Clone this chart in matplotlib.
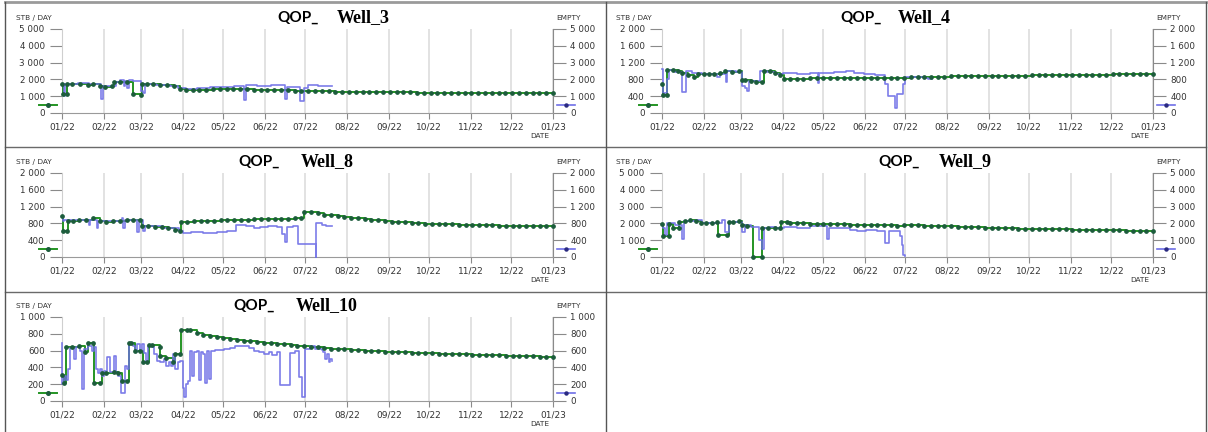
import numpy as np
import matplotlib
matplotlib.use("Agg")
import matplotlib.pyplot as plt
import matplotlib.dates as mdates
from matplotlib.lines import Line2D
from matplotlib.ticker import FuncFormatter, MultipleLocator
from datetime import datetime

# ---------------------------------------------------------------- data
# day offsets are counted from 2022-01-01

# Well_3
W3_G_DAYS = [0, 1, 3.7, 4, 7.5, 13.5, 19, 23, 28, 32, 37, 38.5, 43, 48, 53, 59, 59.5, 63, 68, 73, 78, 83, 88]
W3_G_VALS = [1750, 1150, 1150, 1750, 1750, 1750, 1650, 1700, 1600, 1550, 1600, 1850, 1850, 1850, 1150, 1100,
             1700, 1700, 1700, 1650, 1650, 1600, 1450]
W3_FC_START = 92
W3_FC_VALS = [1340, 1360, 1380, 1390, 1400, 1400, 1400, 1400, 1400, 1400,
              1390, 1380, 1370, 1360, 1350, 1340, 1330, 1320, 1310, 1300,
              1290, 1280, 1270, 1260, 1250, 1240, 1235, 1230, 1230, 1230,
              1225, 1225, 1225, 1225, 1220, 1220, 1220, 1220, 1220, 1220,
              1220, 1220, 1220, 1220, 1220, 1220, 1220, 1220, 1220, 1220,
              1220, 1220, 1220, 1220, 1220]
W3_B_DAYS = [0, 1.5, 2.5, 12, 20, 25, 29, 30.5, 40, 43, 46, 47, 48.5, 49.5, 53, 58.5, 60.5, 61.5, 70, 80,
             86, 92, 100, 110, 120, 128, 135.5, 136.5, 145, 155, 165.5, 167, 177, 180, 183, 190, 200.5]
W3_B_VALS = [1700, 1000, 1750, 1760, 1700, 1750, 850, 1600, 1850, 1950, 1600, 1900, 1500, 1950, 1900, 1300,
             1200, 1700, 1650, 1600, 1500, 1450, 1500, 1550, 1550, 1600, 750, 1650, 1600, 1650, 850, 1550,
             700, 1500, 1650, 1620, 1600]

# Well_4
W4_G_DAYS = [0, 1, 3.7, 4, 8, 12, 15, 19, 24, 27, 31, 35, 39, 43, 47, 52, 57, 59.5, 62, 66, 70, 74, 76, 80,
             84, 88, 90.5]
W4_G_VALS = [690, 440, 440, 1030, 1030, 1000, 950, 910, 860, 940, 930, 930, 930, 950, 990, 980, 990, 790,
             780, 760, 750, 740, 1010, 1000, 960, 900, 810]
W4_FC_START = 95
W4_FC_VALS = [815, 818, 820, 822, 822, 824, 825, 826, 828, 830,
              830, 832, 833, 835, 838, 840, 842, 845, 850, 855,
              860, 862, 865, 868, 870, 872, 874, 876, 878, 880,
              882, 884, 886, 888, 890, 892, 894, 896, 898, 900,
              902, 904, 906, 908, 910, 912, 914, 916, 918, 920,
              923, 926, 929, 932, 935]
W4_B_DAYS = [0, 0.5, 1, 3.7, 5.5, 10, 15, 17.5, 22, 30, 41, 43, 47.5, 48.5, 55, 59.5, 61.5, 63, 64.5, 73,
             78, 84, 90, 100, 110, 116, 117, 128, 137, 143, 150, 158, 165.5, 168, 173.5, 175, 179, 181, 195,
             198, 200.5]
W4_B_VALS = [1050, 700, 480, 800, 1020, 980, 490, 1000, 960, 940, 850, 940, 750, 1000, 970, 640, 600, 520,
             760, 1000, 980, 930, 950, 930, 950, 720, 950, 980, 1000, 950, 920, 900, 700, 400, 130, 450, 700,
             850, 840, 820, 820]

# Well_8
W8_G_DAYS = [0, 1, 4, 4.5, 8, 13, 18, 23, 28, 33, 38, 43, 48, 53, 58, 59.5, 64, 69, 74, 79, 84, 88, 88.5,
             93, 98, 103, 108, 113, 118, 123, 128, 133, 138, 143, 148, 153, 158, 163, 168, 173, 177.5]
W8_G_VALS = [980, 630, 630, 850, 860, 870, 880, 920, 860, 840, 850, 860, 870, 880, 890, 750, 740, 720, 710,
             700, 650, 620, 840, 845, 850, 855, 860, 865, 870, 875, 880, 885, 890, 895, 900, 905, 910, 913,
             916, 918, 920]
W8_FC_START = 180
W8_FC_VALS = [1080, 1070, 1040, 1010, 990, 970, 950, 935, 920, 905,
              890, 875, 860, 845, 835, 825, 815, 805, 795, 788,
              782, 778, 774, 770, 766, 762, 759, 756, 753, 750,
              748, 746, 744, 742, 741, 740, 739, 738]
W8_B_DAYS = [0, 0.5, 1.5, 8, 15, 20, 21, 26, 27, 35, 44.5, 45.5, 47, 56, 57, 60.5, 61.5, 68, 75, 83, 87,
             90, 96, 105, 115, 123, 129, 137, 143, 147, 153, 160, 163.5, 165.5, 167, 172, 175.5, 188.5,
             188.9, 193, 196, 200.5]
W8_B_VALS = [950, 860, 870, 880, 870, 760, 880, 680, 860, 850, 920, 700, 880, 600, 880, 620, 750, 740, 700,
             680, 630, 560, 590, 580, 600, 610, 760, 740, 690, 710, 730, 720, 550, 350, 720, 740, 300, 0,
             800, 770, 740, 730]

# Well_9
W9_G_DAYS = [0, 0.8, 5, 5.2, 8, 12.5, 13, 17, 21, 25, 29, 33, 37, 41, 42, 48, 49.5, 53, 57, 59.5, 63, 67.5,
             74, 74.5, 79, 84, 87.5, 88.5, 93]
W9_G_VALS = [1950, 1250, 1250, 1950, 1700, 1700, 2100, 2150, 2200, 2150, 2050, 2000, 2050, 2100, 1300,
             1300, 2100, 2100, 2150, 1900, 1850, 0, 0, 1700, 1700, 1750, 1700, 2100, 2100]
W9_FC_START = 95
W9_FC_VALS = [2050, 2020, 2000, 1990, 1970, 1960, 1950, 1940, 1940, 1930,
              1930, 1920, 1910, 1900, 1890, 1880, 1870, 1890, 1890, 1880,
              1870, 1860, 1850, 1830, 1820, 1800, 1790, 1770, 1760, 1740,
              1730, 1720, 1710, 1700, 1690, 1680, 1670, 1660, 1655, 1650,
              1645, 1640, 1630, 1625, 1620, 1610, 1605, 1600, 1590, 1580,
              1570, 1560, 1550, 1540, 1530]
W9_B_DAYS = [0, 1, 2, 4, 10, 14.5, 16, 25, 30, 40, 44.5, 47, 49.5, 59.5, 62, 66, 72, 74, 75.5, 80, 85, 91,
             100, 110, 122.5, 124, 132, 140, 145, 152, 160, 166, 168.5, 177, 178.5, 179.5, 181]
W9_B_VALS = [1950, 1750, 1300, 2000, 1900, 1050, 2150, 2200, 2050, 2050, 2200, 1500, 2100, 1500, 1900,
             1800, 1000, 450, 1700, 1800, 1700, 1800, 1750, 1850, 1100, 1750, 1700, 1600, 1550, 1600, 1550,
             850, 1550, 1250, 700, 100, 50]

# Well_10
W10_G_DAYS = [0, 1.5, 3, 7.4, 12.4, 17, 19, 23, 23.5, 28, 30, 33, 38.4, 42, 44.6, 48.3, 49.6, 51.3, 54.5,
              58.2, 60.2, 63, 65, 67, 72.6, 73, 77.5, 82.5, 84.3, 88, 88.5, 93]
W10_G_VALS = [310, 210, 640, 640, 650, 580, 690, 690, 220, 220, 330, 330, 350, 330, 240, 240, 690, 690, 600,
              600, 460, 460, 670, 670, 640, 540, 510, 470, 560, 560, 850, 850]
W10_FC_START = 95
W10_FC_VALS = [845, 810, 790, 775, 760, 745, 735, 725, 717, 710,
               702, 695, 688, 680, 673, 665, 658, 650, 643, 638,
               633, 625, 620, 615, 610, 605, 601, 597, 593, 589,
               586, 583, 580, 577, 574, 571, 568, 565, 562, 559,
               556, 554, 551, 549, 546, 544, 542, 539, 537, 535,
               533, 530, 528, 525, 522]
W10_B_DAYS = [0, 0.3, 1.7, 3, 4.5, 5.7, 9.2, 10.2, 13.6, 15,
              16, 19, 22.3, 23.5, 25.3, 26.8, 28.5, 30, 31.5, 33.5,
              36, 38.4, 40, 42, 43.9, 46.6, 48.3, 49.8, 52.8, 54.3,
              55.8, 57.7, 59.2, 61.2, 62.2, 63.7, 66.2, 68.6, 70.6, 73.1,
              75.6, 77.3, 79.3, 81, 82.5, 84.3, 86, 88, 90, 91,
              92.2, 93.7, 94.9, 96.7, 97.9, 100.4, 101.9, 103.3, 104.8, 106.3,
              107.8, 109.3, 110.8, 114, 120.2, 125, 128.9, 133.8, 138.8, 142.5,
              146.2, 150, 153.7, 156, 159.9, 161.8, 169.8, 173.5, 176.5, 178.7,
              180.9, 184.4, 188, 193, 194, 195.5, 197, 198.5, 199.5, 200.5]
W10_B_VALS = [690, 200, 300, 250, 380, 630, 500, 640, 600, 140,
              620, 650, 600, 640, 380, 330, 380, 300, 360, 520,
              350, 540, 330, 300, 90, 420, 380, 690, 660, 580,
              680, 600, 680, 570, 450, 660, 640, 560, 480, 460,
              500, 420, 460, 420, 560, 380, 470, 480, 150, 50,
              200, 240, 590, 300, 580, 600, 250, 580, 560, 220,
              600, 260, 590, 610, 620, 630, 660, 650, 630, 600,
              580, 560, 580, 550, 580, 190, 570, 590, 280, 50,
              620, 650, 620, 610, 580, 500, 560, 470, 500, 480]

# ---------------------------------------------------------------- style
W, H = 1208, 432
PW, PH = 491, 84
GREEN = "#249424"
DOT = "#1c5c3c"
BLUE = "#6e6ee6"
TXT = "#333333"
T0 = mdates.date2num(datetime(2022, 1, 1))

fig = plt.figure(figsize=(W / 100, H / 100), dpi=100)
fig.patch.set_facecolor("white")


def fx(x):
    return x / W


def fy(y):
    return 1 - y / H


def fig_line(xs, ys, **kw):
    fig.add_artist(Line2D([fx(v) for v in xs], [fy(v) for v in ys],
                          transform=fig.transFigure, **kw))


def thousands(v, _):
    return f"{int(round(v)):,}".replace(",", " ")


def panel(left, top, well, ymax, ystep, g_days, g_vals, fc_start, fc_vals,
          b_days, b_vals, qop_x, well_x):
    ax = fig.add_axes([fx(left), fy(top + PH), PW / W, PH / H])

    gd = np.concatenate([np.asarray(g_days, float),
                         np.linspace(fc_start, 365, len(fc_vals))])
    gv = np.concatenate([np.asarray(g_vals, float), np.asarray(fc_vals, float)])
    gx = T0 + gd
    bx = T0 + np.asarray(b_days, float)

    ax.plot(gx, gv, drawstyle="steps-post", color=GREEN, lw=1.4, zorder=3, clip_on=False)
    ax.plot(bx, b_vals, drawstyle="steps-post", color=BLUE, lw=1.2, alpha=0.9,
            zorder=4, clip_on=False)
    ax.plot(gx, gv, ls="none", marker="o", ms=2.4, color=DOT, zorder=5, clip_on=False)

    ax.set_xlim(T0, T0 + 365)
    ax.set_ylim(0, ymax)
    ax.xaxis.set_major_locator(mdates.MonthLocator())
    ax.xaxis.set_major_formatter(mdates.DateFormatter("%m/%y"))
    ax.yaxis.set_major_locator(MultipleLocator(ystep))
    ax.yaxis.set_major_formatter(FuncFormatter(thousands))

    ax.tick_params(axis="y", left=True, right=True, labelleft=True, labelright=True,
                   length=9, width=0.8, color="#8a8a8a", labelsize=6.3,
                   labelcolor=TXT, pad=3.5)
    ax.tick_params(axis="x", length=4, width=0.8, color="#8a8a8a", labelsize=6.5,
                   labelcolor=TXT, pad=3)
    ax.grid(axis="x", color="#dddddd", lw=1.2)
    ax.set_axisbelow(True)
    ax.spines["top"].set_visible(False)
    ax.spines["left"].set_color("#cfcfcf")
    ax.spines["right"].set_color("#8a8a8a")
    ax.spines["bottom"].set_color("#9a9a9a")
    ax.patch.set_alpha(0)

    right = left + PW
    bottom = top + PH
    # axis captions
    fig.text(fx(left - 46), fy(top - 11), "STB / DAY", fontsize=5.3, color=TXT, va="center")
    fig.text(fx(right + 3), fy(top - 11), "EMPTY", fontsize=5.3, color=TXT, va="center")
    fig.text(fx(right - 13), fy(bottom + 23), "DATE", fontsize=5.3, color=TXT,
             va="center", ha="center")
    # title
    fig.text(fx(qop_x), fy(top - 7), "QOP_", family="Lato", weight="bold",
             fontsize=11, va="baseline")
    fig.text(fx(well_x), fy(top - 7), well, family="Liberation Serif", weight="bold",
             fontsize=13, va="baseline")
    # series keys
    ky = top + 76
    fig_line([left - 23, left - 5], [ky, ky], color=GREEN, lw=1.4)
    fig_line([left - 14], [ky], marker="o", ms=2.6, color=DOT, ls="none")
    fig_line([right + 4, right + 22], [ky, ky], color=BLUE, lw=1.2)
    fig_line([right + 13], [ky], marker="o", ms=2.2, color="#2a2a80", ls="none")
    return ax


panel(62, 29, "Well_3", 5000, 1000, W3_G_DAYS, W3_G_VALS, W3_FC_START, W3_FC_VALS,
      W3_B_DAYS, W3_B_VALS, 277, 337)
panel(662, 29, "Well_4", 2000, 400, W4_G_DAYS, W4_G_VALS, W4_FC_START, W4_FC_VALS,
      W4_B_DAYS, W4_B_VALS, 840, 898)
panel(62, 173, "Well_8", 2000, 400, W8_G_DAYS, W8_G_VALS, W8_FC_START, W8_FC_VALS,
      W8_B_DAYS, W8_B_VALS, 238, 301)
panel(662, 173, "Well_9", 5000, 1000, W9_G_DAYS, W9_G_VALS, W9_FC_START, W9_FC_VALS,
      W9_B_DAYS, W9_B_VALS, 878, 939)
panel(62, 317, "Well_10", 1000, 200, W10_G_DAYS, W10_G_VALS, W10_FC_START, W10_FC_VALS,
      W10_B_DAYS, W10_B_VALS, 233, 296)

# panel frames
fig_line([5, 1206], [2, 2], color="#9a9a9a", lw=2.0)
fig_line([5, 1206], [147, 147], color="#6a6a6a", lw=1.0)
fig_line([5, 1206], [292, 292], color="#6a6a6a", lw=1.0)
fig_line([5, 5], [2, 432], color="#555555", lw=1.0)
fig_line([606, 606], [2, 432], color="#555555", lw=1.0)
fig_line([1206, 1206], [2, 432], color="#555555", lw=1.0)

fig.savefig("out.png", dpi=100, facecolor="white")
